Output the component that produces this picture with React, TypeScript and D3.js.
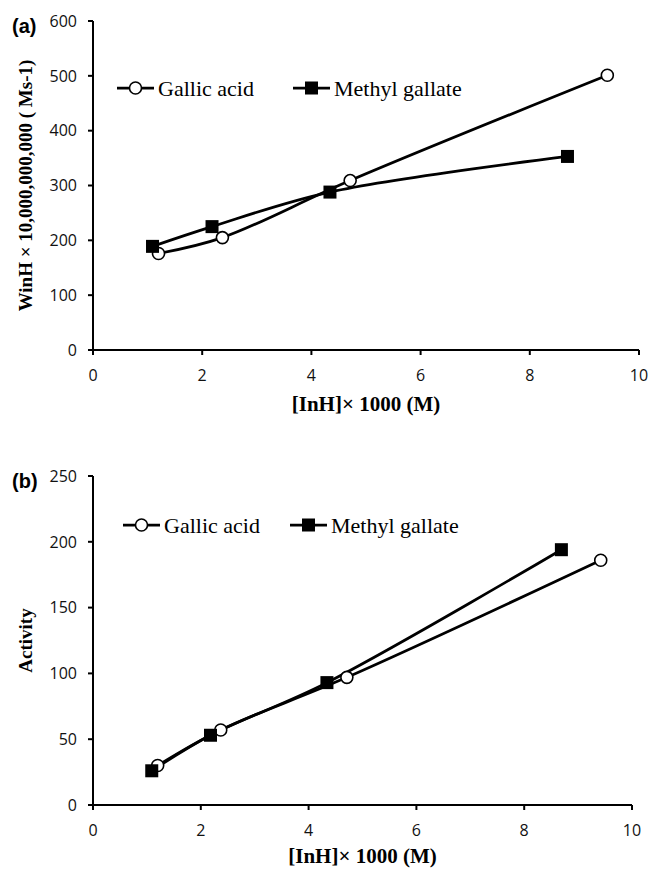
import React from "react";
import * as d3 from "d3";

// [InH] x 1000 (M)
const concGallic = [1.2, 2.37, 4.71, 9.42];
const concMethyl = [1.09, 2.18, 4.34, 8.69];

// panel (a): WinH x 10^10 (Ms-1)
const winhGallic = [176, 205, 309, 501];
const winhMethyl = [189, 225, 288, 353];

// panel (b): activity
const activityGallic = [30, 57, 97, 186];
const activityMethyl = [26, 53, 93, 194];

const xTicks = [0, 2, 4, 6, 8, 10];
const yTicksA = [0, 100, 200, 300, 400, 500, 600];
const yTicksB = [0, 50, 100, 150, 200, 250];

const seriesNames = ["Gallic acid", "Methyl gallate"];

const SERIF = "'Liberation Serif', 'Times New Roman', serif";
const SANS = "'Open Sans', 'Noto Sans', sans-serif";

type PanelProps = {
  tag: string;
  top: number;
  bottom: number;
  left: number;
  right: number;
  yTicks: number[];
  yTitle: string;
  gallic: number[];
  methyl: number[];
  legendY: number;
  legendX: [number, number];
  titleY: number;
};

const Panel = ({ tag, top, bottom, left, right, yTicks, yTitle, gallic, methyl, legendY, legendX, titleY }: PanelProps) => {
  const x = d3.scaleLinear().domain([0, 10]).range([left, right]);
  const y = d3.scaleLinear().domain([0, yTicks[yTicks.length - 1]]).range([bottom, top]);

  const line = d3
    .line<[number, number]>()
    .x((d) => x(d[0]))
    .y((d) => y(d[1]))
    .curve(d3.curveCatmullRom.alpha(0.5));

  const gPts = concGallic.map((c, i) => [c, gallic[i]] as [number, number]);
  const mPts = concMethyl.map((c, i) => [c, methyl[i]] as [number, number]);

  const sq = 13;
  const [gx, mx] = legendX;

  return (
    <g>
      <text x={12} y={top + 12} fontFamily="'Liberation Sans', Arial, sans-serif" fontWeight="bold" fontSize={20}>
        {tag}
      </text>

      {/* axes */}
      <line x1={left} x2={left} y1={top} y2={bottom} stroke="#000" strokeWidth={2} />
      <line x1={left} x2={right} y1={bottom} y2={bottom} stroke="#000" strokeWidth={2} />
      {yTicks.map((t) => (
        <g key={"y" + t}>
          <line x1={left - 5} x2={left} y1={y(t)} y2={y(t)} stroke="#000" strokeWidth={2} />
          <text x={left - 16} y={y(t)} dy="0.36em" textAnchor="end" fontFamily={SANS} fontSize={16} fill="#111">
            {t}
          </text>
        </g>
      ))}
      {xTicks.map((t) => (
        <g key={"x" + t}>
          <line x1={x(t)} x2={x(t)} y1={bottom} y2={bottom + 5} stroke="#000" strokeWidth={2} />
          <text x={x(t)} y={bottom + 31} textAnchor="middle" fontFamily={SANS} fontSize={16} fill="#111">
            {t}
          </text>
        </g>
      ))}

      <text
        transform={`translate(32,${(top + bottom) / 2}) rotate(-90)`}
        textAnchor="middle"
        fontFamily={SERIF}
        fontWeight="bold"
        fontSize={19}
      >
        {yTitle}
      </text>
      <text x={(left + right) / 2} y={titleY} textAnchor="middle" fontFamily={SERIF} fontWeight="bold" fontSize={21}>
        [InH]× 1000 (M)
      </text>

      {/* series */}
      <path d={line(gPts) ?? ""} fill="none" stroke="#000" strokeWidth={2.75} />
      <path d={line(mPts) ?? ""} fill="none" stroke="#000" strokeWidth={2.75} />
      {gPts.map((p, i) => (
        <circle key={"g" + i} cx={x(p[0])} cy={y(p[1])} r={6} fill="#fff" stroke="#000" strokeWidth={1.6} />
      ))}
      {mPts.map((p, i) => (
        <rect key={"m" + i} x={x(p[0]) - sq / 2} y={y(p[1]) - sq / 2} width={sq} height={sq} fill="#000" />
      ))}

      {/* legend */}
      <line x1={gx} x2={gx + 37} y1={legendY} y2={legendY} stroke="#000" strokeWidth={2.75} />
      <circle cx={gx + 18.5} cy={legendY} r={6} fill="#fff" stroke="#000" strokeWidth={1.6} />
      <text x={gx + 41} y={legendY + 8} fontFamily={SERIF} fontSize={22}>
        {seriesNames[0]}
      </text>
      <line x1={mx} x2={mx + 37} y1={legendY} y2={legendY} stroke="#000" strokeWidth={2.75} />
      <rect x={mx + 18.5 - sq / 2} y={legendY - sq / 2} width={sq} height={sq} fill="#000" />
      <text x={mx + 41} y={legendY + 8} fontFamily={SERIF} fontSize={22}>
        {seriesNames[1]}
      </text>
    </g>
  );
};

export default function App() {
  return (
    <svg
      width={651}
      height={869}
      style={{ position: "absolute", left: 0, top: 0, background: "#fff" }}
    >
      <rect width={651} height={869} fill="#fff" />
      <Panel
        tag="(a)"
        top={21}
        bottom={350}
        left={93}
        right={639}
        yTicks={yTicksA}
        yTitle="WinH × 10,000,000,000 ( Ms-1)"
        gallic={winhGallic}
        methyl={winhMethyl}
        legendY={88}
        legendX={[117, 293]}
        titleY={411}
      />
      <Panel
        tag="(b)"
        top={476}
        bottom={805}
        left={93}
        right={632}
        yTicks={yTicksB}
        yTitle="Activity"
        gallic={activityGallic}
        methyl={activityMethyl}
        legendY={525}
        legendX={[123, 290]}
        titleY={863}
      />
    </svg>
  );
}
